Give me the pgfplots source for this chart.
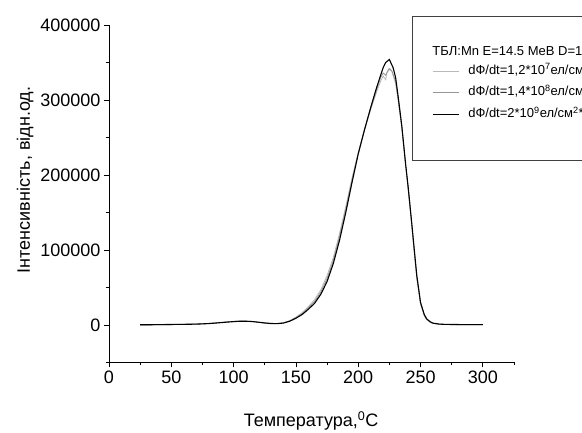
\documentclass[border=0pt]{standalone}
\usepackage{pgfplots}
\pgfplotsset{compat=1.18}
\usepackage{fontspec}
\setmainfont{Liberation Sans}
\definecolor{lgray}{RGB}{185,185,185}
\definecolor{mgray}{RGB}{150,150,150}
\begin{document}
\begin{tikzpicture}
\path[use as bounding box] (-109pt,-70.5pt) rectangle (473pt,362.5pt);
\begin{axis}[
  at={(0,0)}, anchor=south west,
  scale only axis, width=405pt, height=337.5pt,
  xmin=0, xmax=325, ymin=-50000, ymax=400000,
  axis lines=left, axis line style={-, line width=0.9pt},
  xtick={0,50,...,300}, minor xtick={25,75,...,325},
  ytick={0,100000,200000,300000,400000}, minor ytick={-50000,50000,150000,250000,350000},
  tick align=outside, major tick length=5pt, minor tick length=3pt,
  every tick/.style={black, line width=0.8pt},
  scaled y ticks=false,
  /pgf/number format/assume math mode=true,
  yticklabel style={/pgf/number format/fixed, /pgf/number format/1000 sep={}},
  tick label style={font=\fontsize{18}{20}\selectfont},
  label style={font=\fontsize{18}{20}\selectfont},
  xlabel={Температура,\textsuperscript{0}C},
  ylabel={Інтенсивність, відн.од.},
  xlabel style={at={(axis description cs:0.499,-0.173)}, anchor=center},
  ylabel style={at={(axis description cs:-0.207,0.541)}, anchor=center},
  legend image code/.code={\draw[#1] (0pt,0pt) -- (26pt,0pt);},
  legend style={draw=none, fill=none, at={(axis description cs:0.7975,0.882)}, anchor=north west,
    font=\fontsize{13}{15}\selectfont, inner sep=0pt, row sep=9.8pt,
    nodes={inner sep=0pt, text height=9pt, text depth=3pt}, /tikz/column sep=9pt},
  legend cell align=left,
  clip=false,
]
\addplot[lgray, line width=0.8pt] coordinates {
(25,0) (30,200) (35,100) (40,400) (45,300) (50,600) (55,700) (60,800) (65,1100) (70,1300)
(75,1700) (80,2100) (85,2800) (90,3500) (95,4200) (100,4900) (105,5300) (110,5200) (115,4700)
(120,3600) (125,2600) (130,2000) (135,2000) (140,3000) (145,5800) (150,10500) (155,16500)
(160,24500) (165,34000) (170,47000) (175,66000) (180,90000) (185,122000) (190,158000)
(195,196000) (200,230000) (205,260000) (210,287000) (215,312000) (218,325000) (220,332000)
(222,327000) (223,336000) (225,341000) (227,338000) (230,322000) (232,300000) (235,262000)
(238,213000) (240,182000) (243,131000) (245,96000) (247,62000) (250,28000) (253,12000)
(255,7000) (258,3500) (260,2000) (265,1000) (270,600) (280,400) (290,300) (300,300)
};
\addlegendentry{dФ/dt=1,2*10\textsuperscript{7}ел/см\textsuperscript{2}*с}
\addplot[mgray, line width=0.8pt] coordinates {
(25,200) (30,100) (35,300) (40,300) (45,500) (50,500) (55,800) (60,900) (65,1000) (70,1300)
(75,1600) (80,2000) (85,2600) (90,3300) (95,4000) (100,4700) (105,5100) (110,5100) (115,4600)
(120,3700) (125,2700) (130,2000) (135,1900) (140,2800) (145,5400) (150,9800) (155,15200)
(160,22800) (165,31500) (170,44000) (175,62000) (180,86000) (185,118000) (190,154000)
(195,193000) (200,229000) (205,261000) (210,289000) (215,315000) (218,330000) (220,336000)
(222,333000) (224,340000) (225,342000) (227,339000) (230,325000) (232,302000) (235,264000)
(238,214000) (240,184000) (243,133000) (245,98000) (247,64000) (250,29000) (253,13000)
(255,7500) (258,3800) (260,2200) (265,1100) (270,700) (280,500) (290,400) (300,300)
};
\addlegendentry{dФ/dt=1,4*10\textsuperscript{8}ел/см\textsuperscript{2}*с}
\addplot[black, line width=1.1pt] coordinates {
(25,300) (30,300) (35,400) (40,500) (45,600) (50,700) (55,800) (60,900) (65,1000) (70,1200)
(75,1500) (80,1900) (85,2500) (90,3200) (95,3900) (100,4500) (105,5000) (110,5000) (115,4600)
(120,3700) (125,2700) (130,2000) (135,1800) (140,2600) (145,5000) (150,9000) (155,14000)
(160,21000) (165,29000) (170,41000) (175,58000) (180,82000) (185,113000) (190,150000)
(195,190000) (200,228000) (205,260000) (210,290000) (215,318000) (220,343000) (222,350000)
(225,354000) (228,343000) (230,330000) (232,305000) (235,265000) (238,215000) (240,185000)
(243,135000) (245,100000) (247,66000) (250,30000) (253,14000) (255,8000) (258,4000)
(260,2500) (265,1200) (270,800) (280,600) (290,500) (300,400)
};
\addlegendentry{dФ/dt=2*10\textsuperscript{9}ел/см\textsuperscript{2}*с}
\coordinate (boxtl) at (axis description cs:0.748,1.027);
\coordinate (boxbr) at (axis description cs:1.3,0.6);
\coordinate (titlew) at (axis description cs:0.798,0.925);
\end{axis}
\draw[line width=0.6pt, black!75] (boxtl) rectangle (boxbr);
\node[anchor=west, inner sep=0pt, font=\fontsize{13}{15}\selectfont] at (titlew) {ТБЛ:Mn E=14.5 MeB D=1*10\textsuperscript{14}ел/см\textsuperscript{2}};
\end{tikzpicture}
\end{document}
